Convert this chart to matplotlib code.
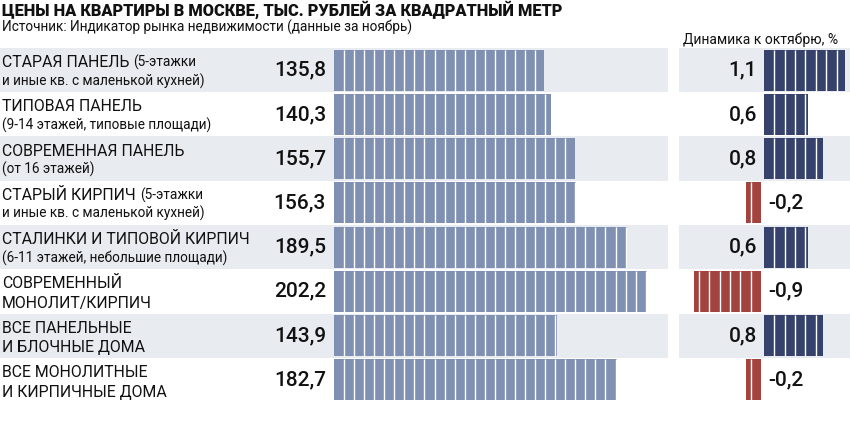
import matplotlib

matplotlib.use("Agg", force=True)
import matplotlib.pyplot as plt
import matplotlib.transforms as mtransforms
from matplotlib import font_manager
import numpy as np

# data
names_top = [
    "СТАРАЯ ПАНЕЛЬ",
    "ТИПОВАЯ ПАНЕЛЬ",
    "СОВРЕМЕННАЯ ПАНЕЛЬ",
    "СТАРЫЙ КИРПИЧ",
    "СТАЛИНКИ И ТИПОВОЙ КИРПИЧ",
    "СОВРЕМЕННЫЙ",
    "ВСЕ ПАНЕЛЬНЫЕ",
    "ВСЕ МОНОЛИТНЫЕ",
]
names_note = ["(5-этажки", "", "", "(5-этажки", "", "", "", ""]
names_second = [
    "и иные кв. с маленькой кухней)",
    "(9-14 этажей, типовые площади)",
    "(от 16 этажей)",
    "и иные кв. с маленькой кухней)",
    "(6-11 этажей, небольшие площади)",
    "МОНОЛИТ/КИРПИЧ",
    "И БЛОЧНЫЕ ДОМА",
    "И КИРПИЧНЫЕ ДОМА",
]
second_is_caps = [False, False, False, False, False, True, True, True]
prices = [135.8, 140.3, 155.7, 156.3, 189.5, 202.2, 143.9, 182.7]
changes = [1.1, 0.6, 0.8, -0.2, 0.6, -0.9, 0.8, -0.2]

TITLE = "ЦЕНЫ НА КВАРТИРЫ В МОСКВЕ, ТЫС. РУБЛЕЙ ЗА КВАДРАТНЫЙ МЕТР"
SUBTITLE = "Источник: Индикатор рынка недвижимости (данные за ноябрь)"
RIGHT_HEAD = "Динамика к октябрю, %"

STRIPE = "#e8ebef"
BAR = "#8090b2"
POS = "#36426c"
NEG = "#a3433f"
TXT = "#111111"
FONT = "Roboto"

# narrow face for the title if there is one
names = {f.name for f in font_manager.fontManager.ttflist}
TITLE_FONT = "Liberation Sans Narrow" if "Liberation Sans Narrow" in names else FONT
TITLE_SIZE = 14.5 if TITLE_FONT != FONT else 11.8

W, H = 850, 444
fig = plt.figure(figsize=(W / 100, H / 100), dpi=100)
fig.patch.set_facecolor("white")


def px_axes(x0, y0, x1, y1):
    return fig.add_axes([x0 / W, 1 - y1 / H, (x1 - x0) / W, (y1 - y0) / H])


n = len(prices)
rows = np.arange(n)
row_top, row_bot = 48, 402

# left panel: zero of the price bars at 334 px, 1.547 px per unit
scale_l = 1.547
ax = px_axes(0, row_top, 668, row_bot)
ax.set_xlim(-334 / scale_l, 334 / scale_l)
ax.set_ylim(n - 0.5, -0.5)
ax.axis("off")

ax2 = px_axes(679, row_top, 850, row_bot)
scale_r = 74.0
ax2.set_xlim(-85 / scale_r, 86 / scale_r)
ax2.set_ylim(n - 0.5, -0.5)
ax2.axis("off")

for i in rows:
    if i % 2 == 0:
        ax.axhspan(i - 0.5, i + 0.5, color=STRIPE, lw=0, zorder=0)
        ax2.axhspan(i - 0.5, i + 0.5, color=STRIPE, lw=0, zorder=0)

bh = 0.93
ax.barh(rows, prices, height=bh, color=BAR, lw=0, zorder=2)
seg = 6.5
for i, v in zip(rows, prices):
    xs = np.arange(seg, v, seg)
    ax.vlines(xs, i - bh / 2, i + bh / 2, colors="white", lw=1.0, zorder=3)
    ax.text(-5.2, i, f"{v:.1f}".replace(".", ","), ha="right", va="center",
            fontsize=15, fontweight="medium", family=FONT, color=TXT)

gap = 0.04
seg_r = 0.14
for i, v in zip(rows, changes):
    if v >= 0:
        ax2.barh(i, v, height=bh, color=POS, lw=0, zorder=2)
        xs = np.arange(seg_r, v, seg_r)
        ax2.text(-0.095, i, f"{v:.1f}".replace(".", ","), ha="right",
                 va="center", fontsize=15, fontweight="medium", family=FONT,
                 color=TXT)
    else:
        ax2.barh(i, v, left=-gap, height=bh, color=NEG, lw=0, zorder=2)
        xs = -gap - np.arange(seg_r, -v, seg_r)
        ax2.text(0.055, i, f"{v:.1f}".replace(".", ","),
                 ha="left", va="center", fontsize=15, fontweight="medium",
                 family=FONT, color=TXT)
    ax2.vlines(xs, i - bh / 2, i + bh / 2, colors="white", lw=1.0, zorder=3)

# category labels
trans = mtransforms.blended_transform_factory(ax.transAxes, ax.transData)
lx = 2 / 668
for i in rows:
    t = ax.text(lx, i - 0.07, names_top[i], transform=trans, ha="left",
                va="baseline", fontsize=11.4, family=FONT, color=TXT)
    if names_note[i]:
        ax.annotate(names_note[i], xy=(1, 0), xycoords=t,
                    xytext=(3, 0), textcoords="offset points",
                    ha="left", va="bottom", fontsize=9.8, family=FONT,
                    color=TXT)
    if second_is_caps[i]:
        ax.text(lx, i + 0.38, names_second[i], transform=trans, ha="left",
                va="baseline", fontsize=11.4, family=FONT, color=TXT)
    else:
        ax.text(lx, i + 0.34, names_second[i], transform=trans, ha="left",
                va="baseline", fontsize=9.8, family=FONT, color=TXT)

fig.text(2 / W, 1 - 10 / H, TITLE, ha="left", va="center",
         fontsize=TITLE_SIZE, fontweight="heavy", family=TITLE_FONT, color=TXT)
fig.text(2 / W, 1 - 27 / H, SUBTITLE, ha="left", va="center", fontsize=9.8,
         family=FONT, color=TXT)
fig.text(683 / W, 1 - 40 / H, RIGHT_HEAD, ha="left", va="center",
         fontsize=10, family=FONT, color=TXT)

fig.savefig("out.png", dpi=100)
